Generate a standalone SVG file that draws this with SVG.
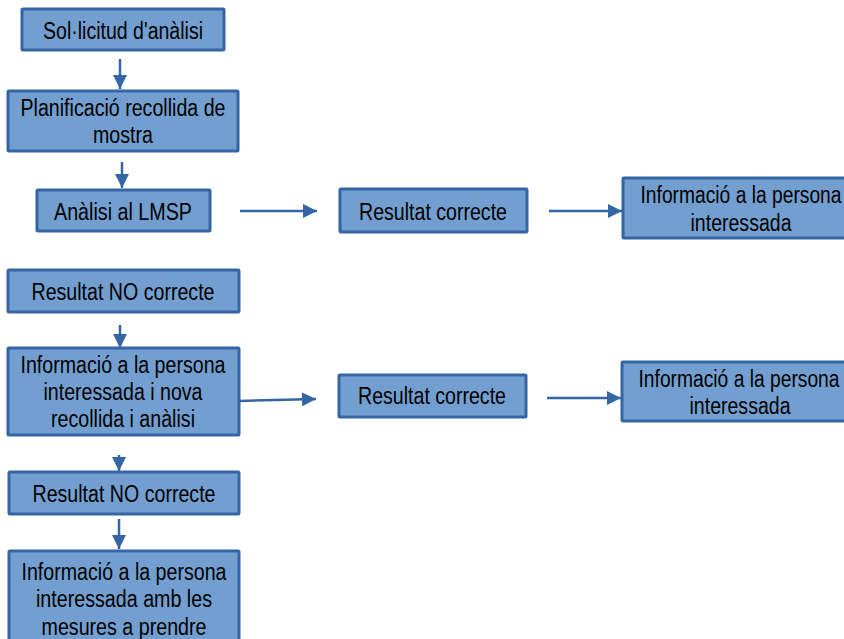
<svg xmlns="http://www.w3.org/2000/svg" width="844" height="639" viewBox="0 0 844 639">
<defs>
<style>
.box{fill:#729fcf;stroke:#3465a4;stroke-width:3}
.t{font-family:"Liberation Sans",Arial,sans-serif;font-size:23.5px;fill:#000;text-anchor:middle}
.c{stroke:#3465a4;stroke-width:2.5;fill:none}
</style>
<marker id="ah" viewBox="0 0 10 10" refX="10" refY="5" markerWidth="14" markerHeight="14" markerUnits="userSpaceOnUse" orient="auto">
<path d="M0,0 L10,5 L0,10 Z" fill="#3465a4"/>
</marker>
</defs>
<rect width="844" height="639" fill="#fff"/>
<g id="connectors">
<path class="c" d="M120,59 L120,89" marker-end="url(#ah)"/>
<path class="c" d="M122,162 L122,188" marker-end="url(#ah)"/>
<path class="c" d="M240,211 L317,211" marker-end="url(#ah)"/>
<path class="c" d="M549,211 L622,211" marker-end="url(#ah)"/>
<path class="c" d="M120,325 L120,348" marker-end="url(#ah)"/>
<path class="c" d="M239,401 L316,399" marker-end="url(#ah)"/>
<path class="c" d="M547,398 L621,398" marker-end="url(#ah)"/>
<path class="c" d="M119,455 L119,471" marker-end="url(#ah)"/>
<path class="c" d="M119,519 L119,549" marker-end="url(#ah)"/>
</g>
<g id="n1"><rect class="box" x="22" y="9" width="202" height="41" rx="1"/><text class="t" x="123" y="39" textLength="160" lengthAdjust="spacingAndGlyphs">Sol·licitud d'anàlisi</text></g>
<g id="n2"><rect class="box" x="8" y="91" width="230" height="60" rx="1"/><text class="t" x="123" y="116" textLength="205" lengthAdjust="spacingAndGlyphs">Planificació recollida de</text><text class="t" x="123" y="143" textLength="60" lengthAdjust="spacingAndGlyphs">mostra</text></g>
<g id="n3"><rect class="box" x="37" y="190" width="173" height="41" rx="1"/><text class="t" x="123" y="220" textLength="138" lengthAdjust="spacingAndGlyphs">Anàlisi al LMSP</text></g>
<g id="n4"><rect class="box" x="340" y="189" width="187" height="43" rx="1"/><text class="t" x="433" y="220" textLength="148" lengthAdjust="spacingAndGlyphs">Resultat correcte</text></g>
<g id="n5"><rect class="box" x="623" y="178" width="238" height="60" rx="1"/><text class="t" x="741" y="203" textLength="201" lengthAdjust="spacingAndGlyphs">Informació a la persona</text><text class="t" x="741" y="231" textLength="101" lengthAdjust="spacingAndGlyphs">interessada</text></g>
<g id="n6"><rect class="box" x="8" y="270" width="231" height="42" rx="1"/><text class="t" x="123" y="300" textLength="183" lengthAdjust="spacingAndGlyphs">Resultat NO correcte</text></g>
<g id="n7"><rect class="box" x="8" y="348" width="231" height="87" rx="1"/><text class="t" x="123" y="373" textLength="205" lengthAdjust="spacingAndGlyphs">Informació a la persona</text><text class="t" x="123" y="400" textLength="159" lengthAdjust="spacingAndGlyphs">interessada i nova</text><text class="t" x="123" y="427" textLength="144" lengthAdjust="spacingAndGlyphs">recollida i anàlisi</text></g>
<g id="n8"><rect class="box" x="339" y="375" width="187" height="42" rx="1"/><text class="t" x="432" y="404" textLength="148" lengthAdjust="spacingAndGlyphs">Resultat correcte</text></g>
<g id="n9"><rect class="box" x="622" y="362" width="238" height="59" rx="1"/><text class="t" x="739" y="387" textLength="201" lengthAdjust="spacingAndGlyphs">Informació a la persona</text><text class="t" x="740" y="414" textLength="101" lengthAdjust="spacingAndGlyphs">interessada</text></g>
<g id="n10"><rect class="box" x="9" y="472" width="230" height="42" rx="1"/><text class="t" x="124" y="502" textLength="183" lengthAdjust="spacingAndGlyphs">Resultat NO correcte</text></g>
<g id="n11"><rect class="box" x="9" y="551" width="230" height="100" rx="1"/><text class="t" x="124" y="580" textLength="205" lengthAdjust="spacingAndGlyphs">Informació a la persona</text><text class="t" x="124" y="607" textLength="176" lengthAdjust="spacingAndGlyphs">interessada amb les</text><text class="t" x="124" y="635" textLength="165" lengthAdjust="spacingAndGlyphs">mesures a prendre</text></g>
</svg>
